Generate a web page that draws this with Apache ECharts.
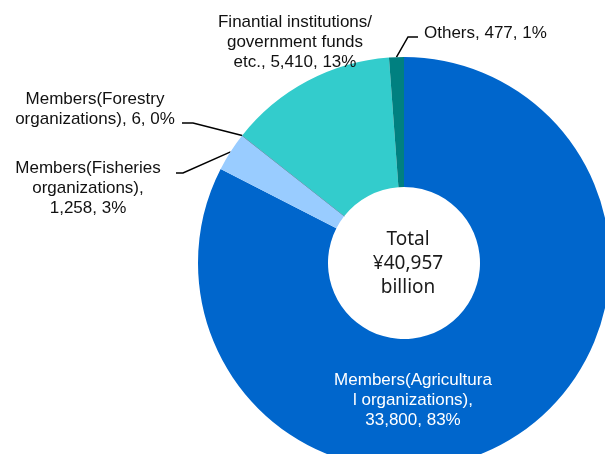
<!DOCTYPE html>
<html>
<head>
<meta charset="utf-8">
<script src="https://cdn.jsdelivr.net/npm/echarts@6/dist/echarts.min.js"></script>
<style>
  html, body { margin: 0; padding: 0; background: #ffffff; }
  #chart { width: 605px; height: 454px; }
</style>
</head>
<body>
<div id="chart"></div>
<script>
// Breakdown of funding sources (¥ billion)
const categories = [
  'Members(Agricultura\nl organizations)',
  'Members(Fisheries\norganizations)',
  'Members(Forestry\norganizations)',
  'Finantial institutions/\ngovernment funds\netc.',
  'Others'
];
const values = [33800, 1258, 6, 5410, 477];
const separators = [',\n', ',\n', ', ', ', ', ', '];
const colors = ['#0066CC', '#99CCFF', '#6F8FA8', '#33CCCC', '#008080'];
const totalLabel = ['Total', '¥40,957', 'billion'];

// label placement and leader-line bends, one entry per category
const labelPlacement = [
  { x: 413, y: 400, align: 'center', color: '#ffffff' },
  { x: 88, y: 188, align: 'center', bend: [[183, 173], [176, 173]] },
  { x: 95, y: 109, align: 'center', bend: [[193, 123], [182, 123]] },
  { x: 295, y: 42, align: 'center' },
  { x: 424, y: 33, align: 'left', bend: [[408, 37], [418, 37]] }
];

const fmt = n => n.toLocaleString('en-US');

const chart = echarts.init(document.getElementById('chart'), null, { renderer: 'canvas' });

const pieData = categories.map((name, i) => ({
  name,
  value: values[i],
  itemStyle: {
    color: colors[i],
    borderColor: i === 2 ? '#6F8FA8' : colors[i],
    borderWidth: i === 2 ? 0.8 : 0
  },
  label: { color: labelPlacement[i].color || '#111111' },
  labelLine: { show: !!labelPlacement[i].bend }
}));

chart.setOption({
  animation: false,
  backgroundColor: '#ffffff',
  graphic: [{
    type: 'text',
    x: 408,
    y: 264,
    style: {
      text: totalLabel.join('\n'),
      align: 'center',
      verticalAlign: 'middle',
      fontFamily: 'Noto Sans',
      fontSize: 19,
      lineHeight: 24,
      fill: '#1a1a1a'
    }
  }],
  series: [{
    type: 'pie',
    center: [404, 263],
    radius: [76, 206],
    startAngle: 90,
    clockwise: true,
    avoidLabelOverlap: false,
    silent: true,
    data: pieData,
    label: {
      show: true,
      position: 'outside',
      fontFamily: 'Liberation Sans',
      fontSize: 17,
      lineHeight: 20,
      formatter: p => p.name + separators[p.dataIndex] + fmt(p.value) + ', ' + Math.round(p.percent) + '%'
    },
    labelLine: {
      show: true,
      length: 10,
      length2: 10,
      lineStyle: { color: '#000000', width: 1.5 }
    },
    labelLayout: function (p) {
      const pl = labelPlacement[p.dataIndex];
      const out = {
        x: pl.x,
        y: pl.y,
        align: pl.align,
        verticalAlign: 'middle'
      };
      if (pl.bend && p.labelLinePoints) {
        out.labelLinePoints = [p.labelLinePoints[0], pl.bend[0], pl.bend[1]];
      }
      return out;
    }
  }]
});
</script>
</body>
</html>
